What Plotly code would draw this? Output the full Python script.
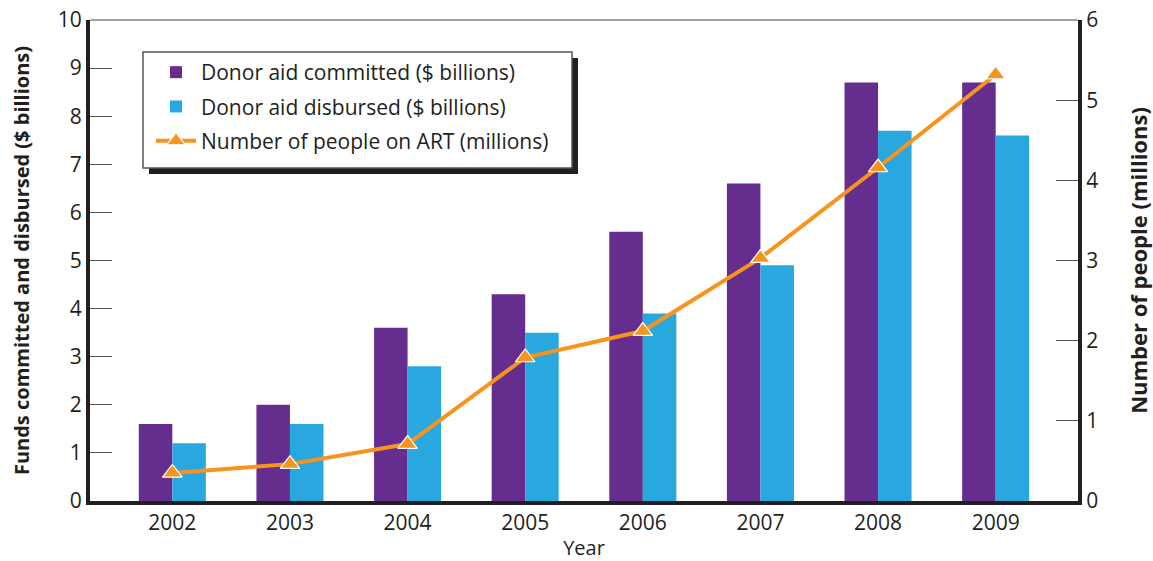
import plotly.graph_objects as go

years = ["2002", "2003", "2004", "2005", "2006", "2007", "2008", "2009"]
committed = [1.6, 2.0, 3.6, 4.3, 5.6, 6.6, 8.7, 8.7]
disbursed = [1.2, 1.6, 2.8, 3.5, 3.9, 4.9, 7.7, 7.6]
people_art = [0.35, 0.46, 0.71, 1.79, 2.12, 3.03, 4.16, 5.32]

left_ticks = list(range(0, 11))
right_ticks = list(range(0, 7))

FONT = "Open Sans"
TXT = "#231f20"

fig = go.Figure()
fig.add_trace(go.Bar(x=years, y=committed, name="Donor aid committed ($ billions)",
                     legendgroup="a",
                     marker=dict(color="#652d8e", line=dict(width=0))))
fig.add_trace(go.Bar(x=years, y=disbursed, name="Donor aid disbursed ($ billions)",
                     legendgroup="b",
                     marker=dict(color="#29a8e0", line=dict(width=0))))
fig.add_trace(go.Scatter(x=years, y=people_art, name="Number of people on ART (millions)",
                         legendgroup="c",
                         yaxis="y2", mode="lines+markers",
                         line=dict(color="#f7941d", width=4),
                         marker=dict(symbol="triangle-up", size=17, color="#f7941d",
                                     line=dict(color="white", width=1.2))))

pw = 1078 - 90
ph = 501 - 20

def px_x(p):
    return (p - 90) / pw

def px_y(p):
    return (501 - p) / ph

fig.update_layout(
    width=1153, height=561,
    margin=dict(l=90, r=75, t=20, b=60, autoexpand=False),
    paper_bgcolor="white", plot_bgcolor="white",
    font=dict(family=FONT, size=21, color=TXT),
    barmode="group", bargap=0.43, bargroupgap=0,
    showlegend=True,
    legend=dict(x=px_x(151), y=px_y(52), xanchor="left", yanchor="top",
                bgcolor="rgba(0,0,0,0)", borderwidth=0,
                font=dict(size=21, family=FONT, color=TXT),
                tracegroupgap=4, itemwidth=40, traceorder="grouped"),
    xaxis=dict(type="category", range=[-0.7, 7.7], showline=True, linewidth=4,
               linecolor=TXT, ticks="", showgrid=False, zeroline=False,
               automargin=False,
               title=dict(text="Year", font=dict(size=20), standoff=9),
               tickfont=dict(size=21)),
    yaxis=dict(range=[0, 10], tickvals=left_ticks, showline=True, linewidth=4,
               linecolor=TXT, ticks="inside", ticklen=22, tickwidth=1,
               tickcolor="#555555", showgrid=False, zeroline=False,
               automargin=False, tickfont=dict(size=21),
               title=dict(text="<b>Funds committed and disbursed ($ billions)</b>",
                          font=dict(size=20), standoff=24)),
    yaxis2=dict(range=[0, 6], tickvals=right_ticks, overlaying="y", side="right",
                showline=True, linewidth=4, linecolor=TXT, ticks="inside",
                ticklen=22, tickwidth=1, tickcolor="#555555", showgrid=False,
                zeroline=False, automargin=False, tickfont=dict(size=21),
                title=dict(text="<b>Number of people (millions)</b>",
                           font=dict(size=22), standoff=39)),
    shapes=[
        dict(type="line", xref="paper", yref="paper", x0=0, x1=1, y0=1, y1=1,
             line=dict(color="#444444", width=1.2), layer="above"),
        dict(type="rect", xref="paper", yref="paper",
             x0=px_x(149), x1=px_x(578), y0=px_y(174), y1=px_y(58),
             fillcolor="#231f20", line=dict(width=0), layer="above"),
        dict(type="rect", xref="paper", yref="paper",
             x0=px_x(143), x1=px_x(572), y0=px_y(168), y1=px_y(52),
             fillcolor="white", line=dict(color="#555555", width=1.5), layer="above"),
    ],
)

fig.write_html("out.html", config={"displayModeBar": False},
               post_script="document.body.style.margin='0';document.body.style.padding='0';")
